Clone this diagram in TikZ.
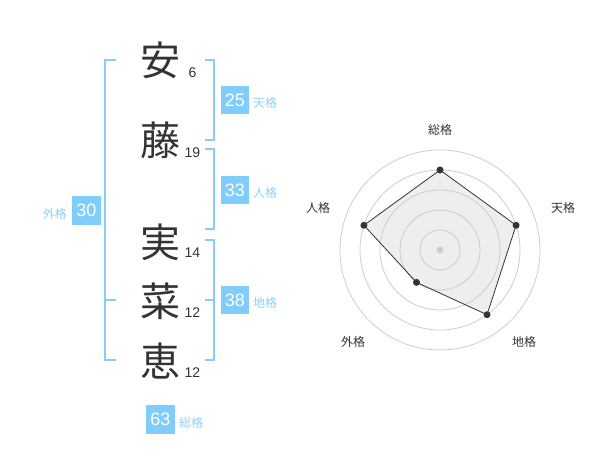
\documentclass[tikz,border=0pt]{standalone}
\usepackage{fontspec}
\usetikzlibrary{calc}
\setmainfont{Liberation Sans}
\newfontfamily\jp{Noto Sans CJK JP}
\definecolor{brk}{RGB}{135,205,248}
\definecolor{boxc}{RGB}{128,204,250}
\definecolor{lbl}{RGB}{140,208,245}
\definecolor{ink}{RGB}{51,51,51}
\definecolor{grid}{RGB}{204,204,204}
\definecolor{polyfill}{RGB}{238,238,238}
\begin{document}
\begin{tikzpicture}[x=1pt,y=-1pt,
  kanji/.style={font=\jp\fontsize{40}{40}\selectfont,text=ink,inner sep=0pt},
  strokes/.style={font=\fontsize{14}{14}\selectfont,text=ink,inner sep=0pt},
  valbox/.style={fill=boxc,text=white,minimum width=28.5pt,minimum height=28.5pt,inner sep=0pt,font=\fontsize{18}{18}\selectfont},
  kaku/.style={font=\jp\fontsize{12}{12}\selectfont,text=lbl,inner sep=0pt},
  bracket/.style={draw=brk,line width=2pt},
  axlabel/.style={font=\jp\fontsize{12}{12}\selectfont,text=ink,inner sep=0pt},
  ring/.style={draw=grid,line width=0.8pt},
  dot/.style={circle,fill=ink,inner sep=0pt,minimum size=7pt}]
\useasboundingbox (0,0) rectangle (600,470);
% characters
\node[kanji] (c1) at (160,60) {安};
\node[kanji] (c2) at (160,140) {藤};
\node[kanji] (c3) at (160,242) {実};
\node[kanji] (c4) at (160,301) {菜};
\node[kanji] (c5) at (160,361) {恵};
\node[strokes] (n1) at (192.5,73) {6};
\node[strokes] (n2) at (192.5,153) {19};
\node[strokes] (n3) at (192.5,253) {14};
\node[strokes] (n4) at (192.5,313) {12};
\node[strokes] (n5) at (192.5,373) {12};
% brackets
\draw[bracket] (116,60) -- (105,60) -- (105,360) -- (116,360);
\draw[bracket] (105,300) -- (116,300);
\draw[bracket] (205,60) -- (214,60) -- (214,140) -- (205,140);
\draw[bracket] (205,149) -- (214,149) -- (214,229) -- (205,229);
\draw[bracket] (205,240) -- (214,240) -- (214,360) -- (205,360);
\draw[bracket] (205,300) -- (214,300);
% boxes
\node[valbox] (b1) at (235,100) {25};
\node[kaku,anchor=west] (l1) at (253,103) {天格};
\node[valbox] (b2) at (235,190) {33};
\node[kaku,anchor=west] (l2) at (253,193) {人格};
\node[valbox] (b3) at (235,300) {38};
\node[kaku,anchor=west] (l3) at (253,303) {地格};
\node[valbox] (b4) at (86.5,210.5) {30};
\node[kaku,anchor=east] (l4) at (67,213.5) {外格};
\node[valbox] (b5) at (160.5,419.5) {63};
\node[kaku,anchor=west] (l5) at (179,422.5) {総格};
% radar
\coordinate (ctr) at (440,250);
\coordinate (p1) at ($(ctr)+(-90:80)$);
\coordinate (p2) at ($(ctr)+(-18:80)$);
\coordinate (p3) at ($(ctr)+(54:80)$);
\coordinate (p4) at ($(ctr)+(126:40)$);
\coordinate (p5) at ($(ctr)+(198:80)$);
\fill[polyfill] (p1) -- (p2) -- (p3) -- (p4) -- (p5) -- cycle;
\foreach \r in {20,40,60,80,100} \draw[ring] (ctr) circle[radius=\r];
\fill[grid] (ctr) circle[radius=3.5];
\draw[ink,line width=0.8pt] (p1) -- (p2) -- (p3) -- (p4) -- (p5) -- cycle;
\node[dot] (d1) at (p1) {};
\node[dot] (d2) at (p2) {};
\node[dot] (d3) at (p3) {};
\node[dot] (d4) at (p4) {};
\node[dot] (d5) at (p5) {};
\node[axlabel] (a1) at (440,130) {総格};
\node[axlabel] (a2) at (563,208) {天格};
\node[axlabel] (a3) at (524,342) {地格};
\node[axlabel] (a4) at (353,342) {外格};
\node[axlabel] (a5) at (318,208) {人格};
\end{tikzpicture}
\end{document}
